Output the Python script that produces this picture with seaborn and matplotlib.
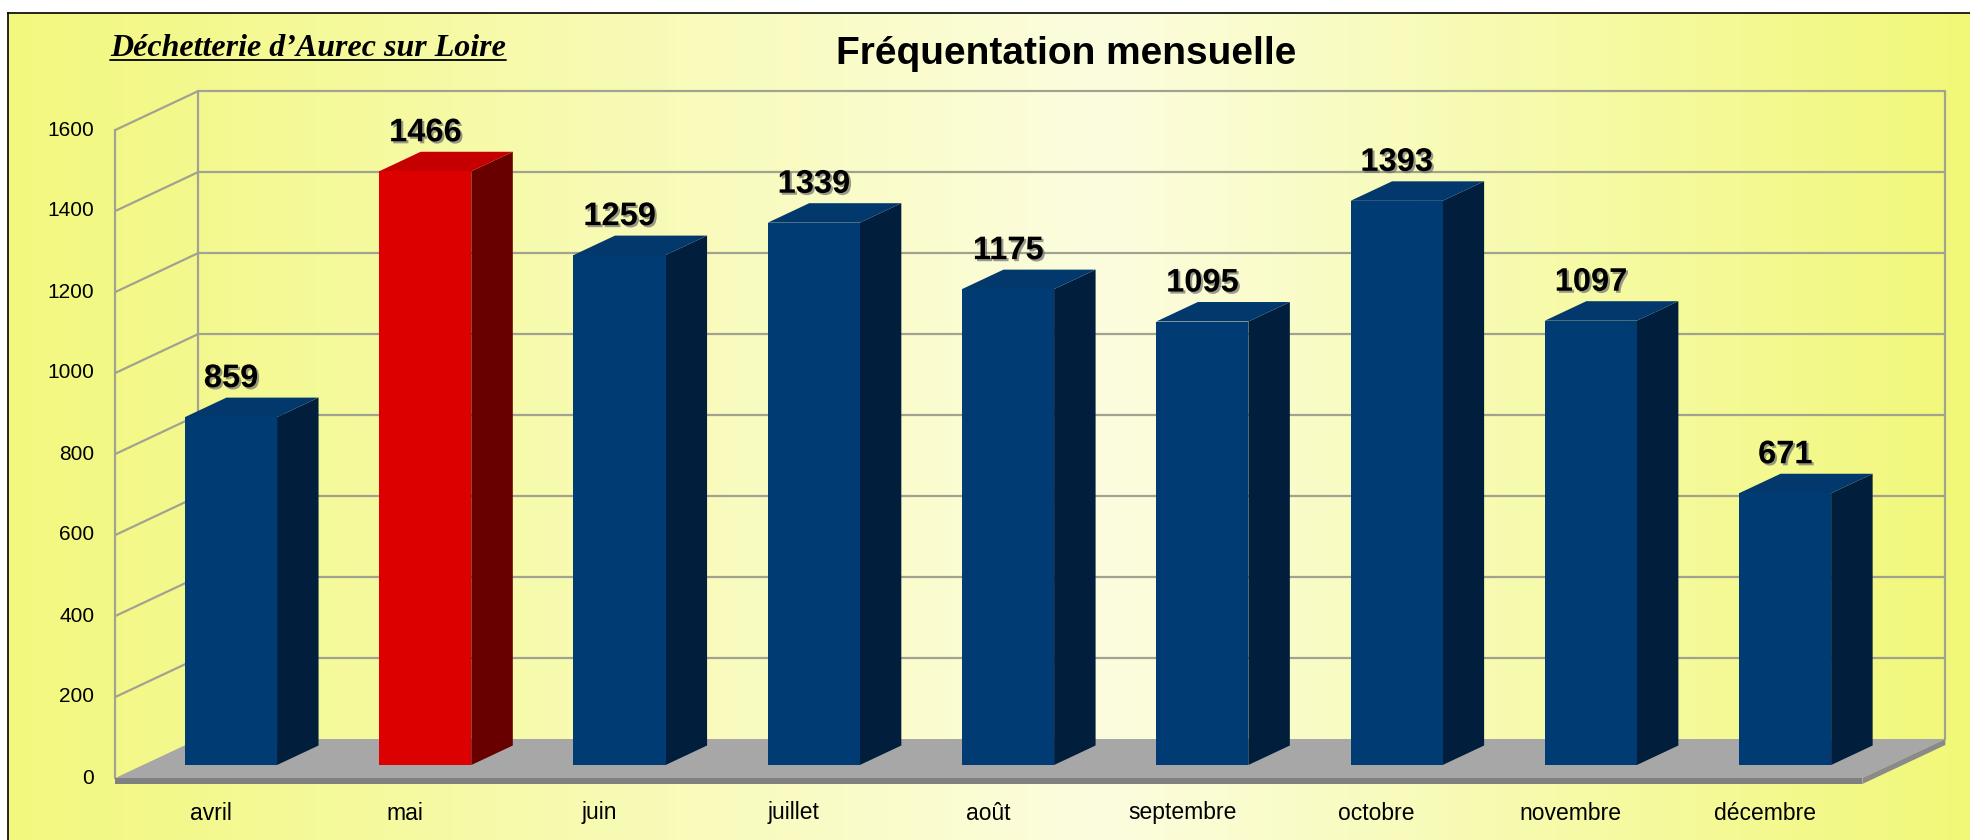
import numpy as np
import matplotlib
matplotlib.use("Agg")
import matplotlib.pyplot as plt
import matplotlib.patheffects as pe
from matplotlib.colors import LinearSegmentedColormap
from matplotlib.patches import Polygon
from matplotlib.lines import Line2D
from matplotlib.transforms import IdentityTransform, Affine2D
import seaborn as sns

months = ["avril", "mai", "juin", "juillet", "août", "septembre",
          "octobre", "novembre", "décembre"]
visits = [859, 1466, 1259, 1339, 1175, 1095, 1393, 1097, 671]
highlight = "mai"
y_ticks = [0, 200, 400, 600, 800, 1000, 1200, 1400, 1600]

FRONT = {"blue": "#013B74", "red": "#DC0000"}
SIDE = {"blue": "#011E3C", "red": "#680000"}
TOP = {"blue": "#03386D", "red": "#C60000"}
GRID = "#A2A290"

W, H, DPI = 1970, 840, 100
DX, DY = 83, 39  # depth of the 3d box in pixels

sns.set_theme(style="white")
plt.rcParams["font.family"] = ["Liberation Sans", "DejaVu Sans"]

fig = plt.figure(figsize=(W / DPI, H / DPI), dpi=DPI, facecolor="white")

# yellow gradient panel with a black frame on top/left
bg = fig.add_axes([8 / W, 0, 1 - 8 / W, 1 - 13 / H], zorder=-10)
cmap = LinearSegmentedColormap.from_list(
    "bg", [(0, "#F2F87E"), (0.56, "#FCFDDF"), (1, "#F1F878")])
bg.imshow(np.linspace(0, 1, 512)[None, :], aspect="auto", cmap=cmap,
          extent=[0, 1, 0, 1])
bg.set_xticks([])
bg.set_yticks([])
for side in ["right", "bottom"]:
    bg.spines[side].set_visible(False)
for side in ["left", "top"]:
    bg.spines[side].set_color("black")
    bg.spines[side].set_linewidth(1.2)

# bar plane axes
ax = fig.add_axes([143 / W, (H - 765) / H, 1747 / W, 648 / H])
palette = {m: (FRONT["red"] if m == highlight else FRONT["blue"]) for m in months}
sns.barplot(x=months, y=visits, hue=months, palette=palette, width=0.474,
            saturation=1, legend=False, ax=ax, zorder=3, linewidth=0)
ax.set_xlim(-0.453, 8.54)
ax.set_ylim(0, 1600)
ax.set_autoscale_on(False)
ax.set_facecolor("none")
ax.set_xticks([])
ax.set_yticks([])
ax.set_xlabel("")
ax.set_ylabel("")
for s in ax.spines.values():
    s.set_visible(False)

x0, x1 = ax.get_xlim()
ID = IdentityTransform()


def pt(x, y, depth=0.0):
    # display position, depth 0 = bar front plane, -1/3 = front wall, 2/3 = back wall
    px, py = ax.transData.transform((x, y))
    return (px + DX * depth, py + DY * depth)


def line(p, q, **kw):
    ax.add_line(Line2D([p[0], q[0]], [p[1], q[1]], transform=ID, clip_on=False,
                       color=GRID, lw=1.6, zorder=0.5, **kw))


F, B = -1 / 3, 2 / 3

# floor
floor = [pt(x0, 0, F), pt(x1, 0, F), pt(x1, 0, B), pt(x0, 0, B)]
ax.add_patch(Polygon(floor, closed=True, transform=ID, clip_on=False,
                     facecolor="#A7A7A7", edgecolor="none", zorder=1))
t = 6
fl, fr, br = pt(x0, 0, F), pt(x1, 0, F), pt(x1, 0, B)
ax.add_patch(Polygon([fl, fr, (fr[0], fr[1] - t), (fl[0], fl[1] - t)],
                     transform=ID, clip_on=False, facecolor="#808080",
                     edgecolor="none", zorder=1))
ax.add_patch(Polygon([fr, br, (br[0], br[1] - t), (fr[0], fr[1] - t)],
                     transform=ID, clip_on=False, facecolor="#8A8A8A",
                     edgecolor="none", zorder=1))

# walls
top = y_ticks[-1]
for v in y_ticks[1:]:
    line(pt(x0, v, B), pt(x1, v, B))
    line(pt(x0, v, F), pt(x0, v, B))
line(pt(x0, 0, F), pt(x0, top, F))
line(pt(x0, 0, B), pt(x0, top, B))
line(pt(x1, 0, B), pt(x1, top, B))

# 3d faces of bars
shadow = [pe.withSimplePatchShadow(offset=(1.5, -1.5), shadow_rgbFace="#707070",
                                   alpha=0.7)]
bars = sorted(ax.patches[:len(months)], key=lambda p: p.get_x())
for p, m, v in zip(bars, months, visits):
    key = "red" if m == highlight else "blue"
    xl, w, h = p.get_x(), p.get_width(), p.get_height()
    tl, tr_, brr = pt(xl, h), pt(xl + w, h), pt(xl + w, 0)
    dx, dy = DX / 2, DY / 2
    ax.add_patch(Polygon([brr, tr_, (tr_[0] + dx, tr_[1] + dy), (brr[0] + dx, brr[1] + dy)],
                         transform=ID, clip_on=False, facecolor=SIDE[key],
                         edgecolor="none", zorder=2.9))
    ax.add_patch(Polygon([tl, tr_, (tr_[0] + dx, tr_[1] + dy), (tl[0] + dx, tl[1] + dy)],
                         transform=ID, clip_on=False, facecolor=TOP[key],
                         edgecolor="none", zorder=2.9))
    ax.text(xl + w / 2, h, f"{v}", transform=ax.transData + Affine2D().translate(0, 30),
            ha="center", va="baseline", fontsize=23.5, fontweight="bold",
            color="black", path_effects=shadow, zorder=5, clip_on=False)

# axis labels drawn on the front wall
for v in y_ticks:
    ax.text(x0, v, f"{v}", transform=ax.transData + Affine2D().translate(DX * F - 21, DY * F),
            ha="right", va="center", fontsize=15, color="black", clip_on=False)
for i, m in enumerate(months):
    ax.text(i, 0, m, transform=ax.transData + Affine2D().translate(-20, -48),
            ha="center", va="center", fontsize=16.5, color="black", clip_on=False)

fig.text(1066 / W, 1 - 54 / H, "Fréquentation mensuelle", ha="center", va="center",
         fontsize=28, fontweight="bold", color="black")

sub = fig.text(110 / W, 1 - 56 / H, "Déchetterie d’Aurec sur Loire", ha="left",
               va="baseline", fontsize=23, fontweight="bold", fontstyle="italic",
               family=["Liberation Serif", "DejaVu Serif"], color="black")
fig.canvas.draw()
bb = sub.get_window_extent()
fig.add_artist(Line2D([bb.x0, bb.x1], [H - 60, H - 60], transform=ID,
                      color="black", lw=1.3))

fig.savefig("out.png", dpi=DPI)
